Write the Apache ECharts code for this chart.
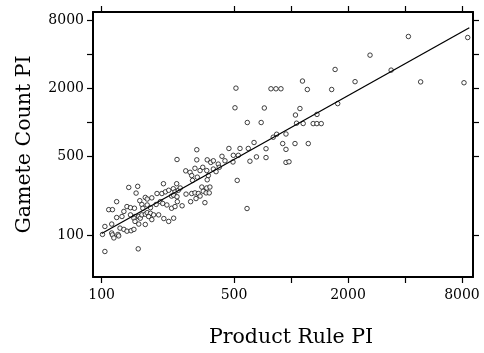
<!DOCTYPE html>
<html>
<head>
<meta charset="utf-8">
<script src="https://cdn.jsdelivr.net/npm/echarts@6/dist/echarts.min.js"></script>
<style>
  html, body { margin: 0; padding: 0; background: #fff; }
  #chart { width: 484px; height: 353px; }
</style>
</head>
<body>
<div id="chart"></div>
<script>
// values (log-log scatter)
const productRule = [
  4170, 8580, 2615, 1710, 3380, 2180, 4840, 8200, 1640, 1765,
  1150, 1220, 784, 833, 885, 512, 506, 723, 1115, 1056,
  1372, 588, 696, 1070, 1160, 1310, 1370, 1445, 840, 941,
  806, 638, 904, 1050, 1234, 470, 538, 595, 738, 941,
  432, 496, 527, 657, 738, 607, 941, 976, 318, 494,
  448, 250, 318, 361, 377, 389, 413, 418, 389, 402,
  278, 293, 311, 331, 342, 359, 299, 320, 366, 361,
  302, 520, 249, 239, 244, 254, 279, 299, 311, 324,
  338, 359, 373, 344, 356, 370, 331, 315, 251, 295,
  351, 234, 244, 586, 234, 139, 155, 152, 212, 170,
  174, 184, 196, 208, 217, 226, 260, 240, 250, 120,
  109, 114, 136, 142, 149, 163, 165, 174, 181, 194,
  204, 210, 221, 266, 131, 120, 128, 142, 150, 148,
  157, 160, 163, 170, 174, 181, 188, 177, 184, 150,
  157, 170, 200, 213, 226, 240, 104, 113, 125, 131,
  136, 143, 148, 113, 114, 122, 123, 101, 116, 104,
  156, 159
];
const gameteCount = [
  5780, 5660, 3950, 2950, 2910, 2300, 2290, 2250, 1960, 1470,
  2330, 1960, 1990, 1990, 1990, 2015, 1350, 1345, 1330, 1165,
  1180, 1000, 1000, 986, 980, 978, 978, 978, 787, 791,
  741, 665, 651, 651, 651, 589, 589, 589, 586, 578,
  502, 512, 512, 496, 489, 454, 443, 449, 574, 447,
  458, 470, 467, 467, 443, 458, 428, 401, 387, 367,
  373, 362, 393, 375, 401, 375, 339, 328, 339, 311,
  307, 307, 287, 259, 243, 251, 232, 235, 238, 235,
  268, 263, 268, 246, 238, 238, 223, 212, 199, 199,
  195, 174, 180, 173, 223, 266, 272, 237, 287, 217,
  210, 215, 235, 235, 243, 251, 263, 227, 220, 199,
  169, 169, 180, 176, 174, 188, 174, 186, 176, 188,
  199, 192, 186, 183, 163, 144, 147, 152, 147, 142,
  147, 142, 152, 154, 159, 157, 152, 147, 138, 133,
  126, 125, 152, 141, 133, 142, 120, 126, 116, 113,
  109, 110, 113, 105, 101, 102, 99, 102, 95, 72,
  76, 203
];
// fitted line end points
const fitX = [100, 8750];
const fitY = [104, 6900];

const tickValues = [100, 500, 1000, 2000, 4000, 8000];
const xLabelValues = [100, 500, 2000, 8000];
const yLabelValues = [100, 500, 2000, 8000];

const chart = echarts.init(document.getElementById('chart'));

const frameLine = { show: true, lineStyle: { color: '#000', width: 2 } };
const tickStyle = (vals) => ({
  show: true, inside: false, length: 6,
  customValues: vals,
  lineStyle: { color: '#000', width: 1.2 }
});
const labelFont = { fontFamily: 'DejaVu Serif', fontSize: 14, color: '#000', formatter: v => String(v) };
const nameFont = { fontFamily: 'DejaVu Serif', fontSize: 20.5, color: '#000' };

chart.setOption({
  animation: false,
  grid: { left: 93, right: 11, top: 12, bottom: 71 },
  xAxis: [
    {
      type: 'log', logBase: 10, min: 90, max: 9150, position: 'bottom',
      axisLine: frameLine,
      axisTick: tickStyle(tickValues),
      axisLabel: Object.assign({ customValues: xLabelValues, margin: 11 }, labelFont),
      splitLine: { show: false },
      name: 'Product Rule PI', nameLocation: 'middle', nameGap: 50,
      nameTextStyle: Object.assign({ padding: [0, 0, 0, 16] }, nameFont)
    },
    {
      type: 'log', logBase: 10, min: 90, max: 9150, position: 'top',
      axisLine: frameLine,
      axisTick: tickStyle(tickValues),
      axisLabel: { show: false },
      splitLine: { show: false }
    }
  ],
  yAxis: [
    {
      type: 'log', logBase: 10, min: 42.8, max: 9525, position: 'left',
      axisLine: frameLine,
      axisTick: tickStyle(tickValues),
      axisLabel: Object.assign({ customValues: yLabelValues, margin: 9 }, labelFont),
      splitLine: { show: false },
      name: 'Gamete Count PI', nameLocation: 'middle', nameGap: 58,
      nameTextStyle: nameFont
    },
    {
      type: 'log', logBase: 10, min: 42.8, max: 9525, position: 'right',
      axisLine: frameLine,
      axisTick: tickStyle(tickValues),
      axisLabel: { show: false },
      splitLine: { show: false }
    }
  ],
  series: [
    {
      type: 'scatter',
      symbol: 'circle',
      symbolSize: 4.5,
      itemStyle: { color: '#fff', borderColor: '#111', borderWidth: 1 },
      data: productRule.map((x, i) => [x, gameteCount[i]])
    },
    {
      type: 'line',
      symbol: 'none',
      lineStyle: { color: '#000', width: 1.3 },
      data: fitX.map((x, i) => [x, fitY[i]])
    }
  ]
});
</script>
</body>
</html>
